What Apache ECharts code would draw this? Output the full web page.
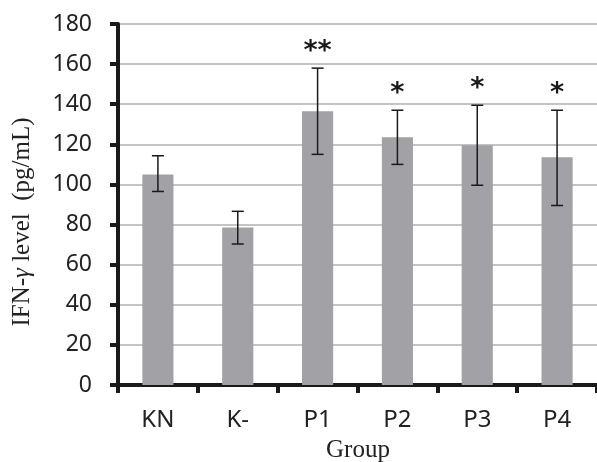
<!DOCTYPE html>
<html>
<head>
<meta charset="utf-8">
<script src="https://cdn.jsdelivr.net/npm/echarts@6/dist/echarts.min.js"></script>
<style>html,body{margin:0;background:#fff}#chart{width:597px;height:462px}</style>
</head>
<body>
<div id="chart"></div>
<script>
// data
var groups = ['KN', 'K-', 'P1', 'P2', 'P3', 'P4'];
var means = [105, 78.5, 136.5, 123.5, 119.5, 113.5];
var errLow = [96.5, 70.3, 115, 110, 99.6, 89.5];
var errHigh = [114.3, 86.6, 158, 137, 139.5, 137];
var marks = ['', '', '**', '*', '*', '*'];

var errData = groups.map(function (g, i) {
  return [i, errLow[i], errHigh[i], marks[i]];
});

var chart = echarts.init(document.getElementById('chart'));

var option = {
  animation: false,
  grid: { left: 118, right: 0, top: 24, bottom: 77 },
  xAxis: {
    type: 'category',
    data: groups,
    axisLine: { lineStyle: { color: '#1a1a1a', width: 4 } },
    axisTick: { show: true, length: 8, lineStyle: { color: '#1a1a1a', width: 4 } },
    axisLabel: { fontFamily: 'Noto Sans', fontSize: 24, color: '#222', margin: 23 }
  },
  yAxis: {
    type: 'value',
    min: 0,
    max: 180,
    interval: 20,
    axisLine: { show: true, lineStyle: { color: '#1a1a1a', width: 4 } },
    axisTick: { show: true, length: 8, lineStyle: { color: '#1a1a1a', width: 4 } },
    axisLabel: { fontFamily: 'Noto Sans', fontSize: 23, color: '#222', margin: 26 },
    splitLine: { lineStyle: { color: '#b0b0b0', width: 1.5 } }
  },
  graphic: [
    {
      type: 'text',
      x: 22, y: 222,
      rotation: Math.PI / 2,
      style: {
        text: '{a|IFN-}{b|γ}{a| level  (pg/mL)}',
        align: 'center',
        verticalAlign: 'middle',
        fill: '#222',
        rich: {
          a: { fontFamily: 'Liberation Serif', fontSize: 25, fill: '#222' },
          b: { fontFamily: 'Liberation Serif', fontSize: 25, fontStyle: 'italic', fill: '#222' }
        }
      }
    },
    {
      type: 'text',
      x: 358, y: 450,
      style: {
        text: 'Group',
        align: 'center',
        verticalAlign: 'middle',
        fill: '#222',
        font: '25px "Liberation Serif"'
      }
    }
  ],
  series: [
    {
      type: 'bar',
      data: means,
      barWidth: '39%',
      itemStyle: { color: '#a2a2a6' }
    },
    {
      type: 'custom',
      data: errData,
      z: 5,
      renderItem: function (params, api) {
        var x = api.value(0);
        var lo = api.coord([x, api.value(1)]);
        var hi = api.coord([x, api.value(2)]);
        var cap = 6;
        var st = { stroke: '#1a1a1a', lineWidth: 1.5 };
        return {
          type: 'group',
          children: [
            { type: 'line', shape: { x1: lo[0], y1: lo[1], x2: hi[0], y2: hi[1] }, style: st },
            { type: 'line', shape: { x1: hi[0] - cap, y1: hi[1], x2: hi[0] + cap, y2: hi[1] }, style: st },
            { type: 'line', shape: { x1: lo[0] - cap, y1: lo[1], x2: lo[0] + cap, y2: lo[1] }, style: st },
            {
              type: 'text',
              style: {
                text: api.value(3),
                x: hi[0], y: hi[1] - 3,
                align: 'center',
                verticalAlign: 'bottom',
                fill: '#1a1a1a',
                font: 'bold 27px "DejaVu Sans"'
              }
            }
          ]
        };
      }
    }
  ]
};

chart.setOption(option);
</script>
</body>
</html>
